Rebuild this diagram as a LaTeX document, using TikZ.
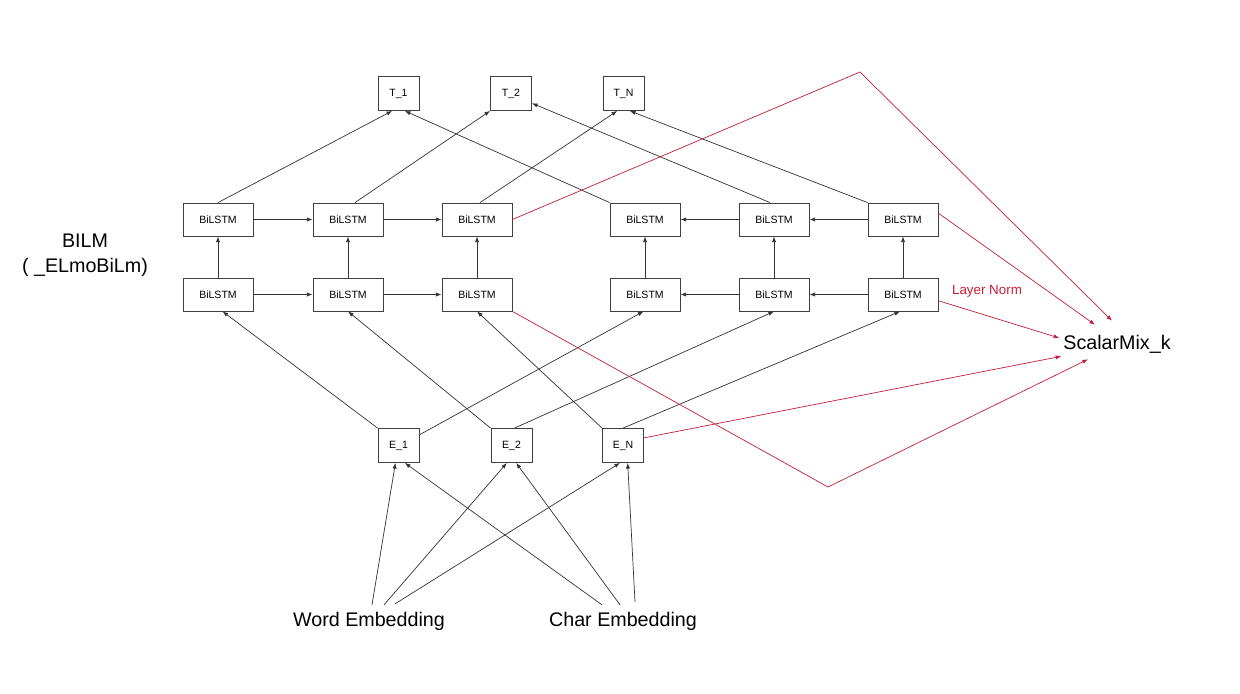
\documentclass[tikz,border=0pt]{standalone}
\usepackage{fontspec}
\setmainfont{Liberation Sans}
\usetikzlibrary{arrows.meta,calc}
\definecolor{normred}{RGB}{196,30,58}

\begin{document}
\begin{tikzpicture}[x=0.025cm, y=-0.025cm,
    cell/.style ={rectangle, draw=black!75, line width=0.6pt, minimum width=1.75cm, minimum height=0.825cm, inner sep=0pt, font=\fontsize{7.5}{9}\selectfont},
    token/.style ={rectangle, draw=black!75, line width=0.6pt, minimum width=1.025cm, minimum height=0.85cm, inner sep=0pt, font=\fontsize{7.5}{9}\selectfont},
    bigtext/.style ={font=\fontsize{14}{17.7}\selectfont},
    link/.style ={-{Latex[length=4pt,width=3pt]}, line width=0.5pt, black!80},
    mixlink/.style ={-{Latex[length=4pt,width=3pt]}, line width=0.5pt, normred}]
   \useasboundingbox (0,0) rectangle (1240,694);

   % outputs
   \node[token] (t1) at (398.5,93.5) {T\_1};
   \node[token] (t2) at (511,93.5)   {T\_2};
   \node[token] (tn) at (623.5,93.5) {T\_N};

   % upper BiLSTM layer
   \node[cell] (top1) at (218,219.5) {BiLSTM};
   \node[cell] (top2) at (348,219.5) {BiLSTM};
   \node[cell] (top3) at (477,219.5) {BiLSTM};
   \node[cell] (top4) at (645,219.5) {BiLSTM};
   \node[cell] (top5) at (774,219.5) {BiLSTM};
   \node[cell] (top6) at (903,219.5) {BiLSTM};

   % lower BiLSTM layer
   \node[cell] (bot1) at (218,294.5) {BiLSTM};
   \node[cell] (bot2) at (348,294.5) {BiLSTM};
   \node[cell] (bot3) at (477,294.5) {BiLSTM};
   \node[cell] (bot4) at (645,294.5) {BiLSTM};
   \node[cell] (bot5) at (774,294.5) {BiLSTM};
   \node[cell] (bot6) at (903,294.5) {BiLSTM};

   % embeddings
   \node[token] (e1) at (398.5,445.5) {E\_1};
   \node[token] (e2) at (511.5,445.5) {E\_2};
   \node[token] (en) at (623,445.5)   {E\_N};

   \node[bigtext] (word) at (369,621) {Word Embedding};
   \node[bigtext] (char) at (623,621) {Char Embedding};
   \node[bigtext, align=center] (bilm) at (85,255) {BILM\\( \_ELmoBiLm)};
   \node[bigtext, minimum height=0.85cm, inner xsep=2pt] (mix) at (1117,344) {ScalarMix\_k};
   \node[font=\fontsize{9.5}{11}\selectfont, text=normred] (norm) at (987,291) {Layer Norm};

   \coordinate (bendtop) at (860,72);
   \coordinate (bendlow) at (828,487);

   % forward and backward links
   \draw[link] (top1) to (top2);
   \draw[link] (top2) to (top3);
   \draw[link] (top6) to (top5);
   \draw[link] (top5) to (top4);
   \draw[link] (bot1) to (bot2);
   \draw[link] (bot2) to (bot3);
   \draw[link] (bot6) to (bot5);
   \draw[link] (bot5) to (bot4);
   \draw[link] (bot1) to (top1);
   \draw[link] (bot2) to (top2);
   \draw[link] (bot3) to (top3);
   \draw[link] (bot4) to (top4);
   \draw[link] (bot5) to (top5);
   \draw[link] (bot6) to (top6);

   % upper layer to outputs
   \draw[link] (top1.north) to (t1.-110);
   \draw[link] ($(top2.north)+(7,0)$) to (t2.south west);
   \draw[link] ($(top3.north)+(3,0)$) to (tn.-110);
   \draw[link] (top4.north west) to (t1.-70);
   \draw[link] ($(top5.north)+(-4,0)$) to (t2.-25);
   \draw[link] (top6.north west) to (tn.-70);

   % embeddings to lower layer
   \draw[link] (e1.north west) to (bot1.-75);
   \draw[link] (e1.27) to (bot4.-95);
   \draw[link] (e2.north west) to (bot2.south);
   \draw[link] (e2.80) to (bot5.south);
   \draw[link] (en.north west) to (bot3.south);
   \draw[link] (en.north) to (bot6.-100);

   % inputs to embeddings
   \draw[link] ($(word.north)+(3,-2)$) to (e1.-100);
   \draw[link] ($(word.north)+(15,-2)$) to (e2.-105);
   \draw[link] ($(word.north)+(26,-3)$) to (en.-100);
   \draw[link] ($(char.north)+(-21,-2)$) to (e1.-70);
   \draw[link] ($(char.north)+(-3,-2)$) to (e2.-75);
   \draw[link] ($(char.north)+(12,-5)$) to (en.-75);

   % layers to scalar mix
   \draw[mixlink] (top3.east) -- (bendtop) -- ($(mix.north)+(-5,-6)$);
   \draw[mixlink] (top6.10) to ($(mix.north)+(-22,-2)$);
   \draw[mixlink] (bot6.-10) to ($(mix.west)+(-1,-6)$);
   \draw[mixlink] (en.20) to ($(mix.south west)+(1,-5)$);
   \draw[mixlink] (bot3.south east) -- (bendlow) -- ($(mix.south)+(-29,-2)$);

 \end{tikzpicture}
\end{document}
